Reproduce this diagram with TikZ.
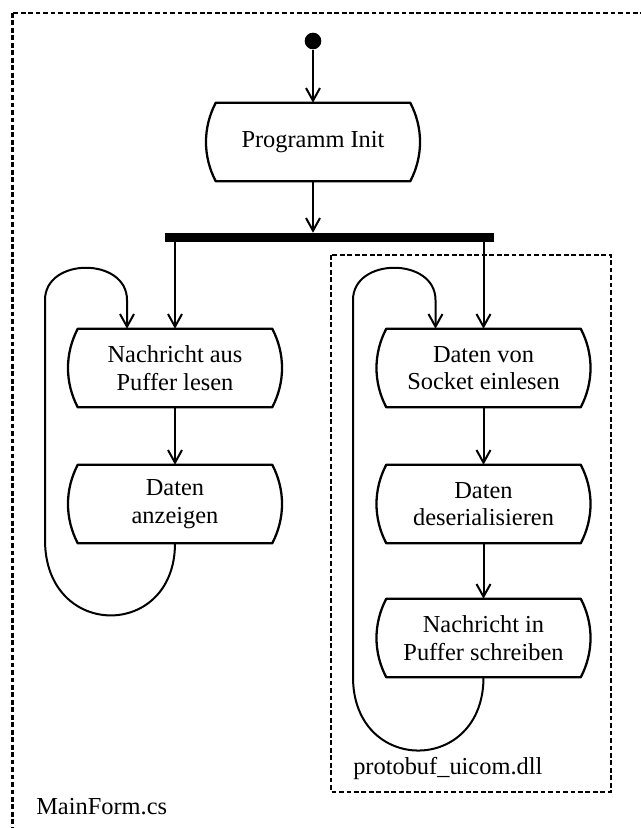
\documentclass[tikz,border=0pt]{standalone}
\usepackage{fontspec}
\setmainfont{Liberation Serif}
\usetikzlibrary{arrows.meta}
\begin{document}
\begin{tikzpicture}[x=0.75pt,y=-0.75pt,
  every node/.style={font=\fontsize{18.3pt}{20.6pt}\selectfont},
  actnode/.style={minimum width=145.5pt,minimum height=58.5pt,inner sep=0pt,align=center},
  outline/.style={line width=1.7pt,line join=round},
  arr/.style={line width=1.5pt,-{Straight Barb[length=9.5pt,width=10.5pt,line width=1.5pt]}},
  frame/.style={line width=1.8pt,dash pattern=on 3.6pt off 2pt},
  startdot/.style={circle,fill=black,minimum size=12.5pt,inner sep=0pt},
  forkbar/.style={fill=black,minimum width=246.75pt,minimum height=6.75pt,inner sep=0pt},
  caption/.style={anchor=west,inner sep=0pt}]
\useasboundingbox (0,0) rectangle (640,828);

% frames
\draw[frame] (12.5,13) rectangle (700,900);
\draw[frame] (331,255) rectangle (611,792);

% nodes
\node[startdot] (start) at (313,41) {};
\node[actnode] (init) at (313,142) {Programm Init};
\node[forkbar] (bar) at (329.5,237.5) {};
\node[actnode] (read) at (175,368) {Nachricht aus\\Puffer lesen};
\node[actnode] (show) at (175,504) {Daten\\anzeigen};
\node[actnode] (recv) at (483.5,368) {Daten von\\Socket einlesen};
\node[actnode] (deser) at (483.5,504) {Daten\\deserialisieren};
\node[actnode] (write) at (483.5,638) {Nachricht in\\Puffer schreiben};
\node[caption] (dll) at (353,768) {protobuf\_uicom.dll};
\node[caption] (main) at (36,807) {MainForm.cs};

% action outlines: flat top and bottom, bulging sides
\foreach \n in {init,read,show,recv,deser,write}
  \draw[outline] (\n.north west) .. controls +(-13,25) and +(-13,-25) .. (\n.south west)
    -- (\n.south east) .. controls +(13,-25) and +(13,25) .. (\n.north east) -- cycle;

% control flow
\draw[arr] (start) -- (init);
\draw[arr] (init) -- (init.south |- bar.north);
\draw[arr] (bar.south -| read.north) -- (read.north);
\draw[arr] (bar.south -| recv.north) -- (recv.north);
\draw[arr] (read) -- (show);
\draw[arr] (recv) -- (deser);
\draw[arr] (deser) -- (write);

% loops
\draw[arr] (show.south) .. controls (175,640) and (45,640) .. (45,540)
  -- (45,300) .. controls (45,257) and (127,257) .. (127,300)
  -- ([xshift=-36pt]read.north);
\draw[arr] (write.south) .. controls (483.5,775) and (353,775) .. (353,677)
  -- (353,300) .. controls (353,257) and (435.5,257) .. (435.5,300)
  -- ([xshift=-36pt]recv.north);
\end{tikzpicture}
\end{document}
